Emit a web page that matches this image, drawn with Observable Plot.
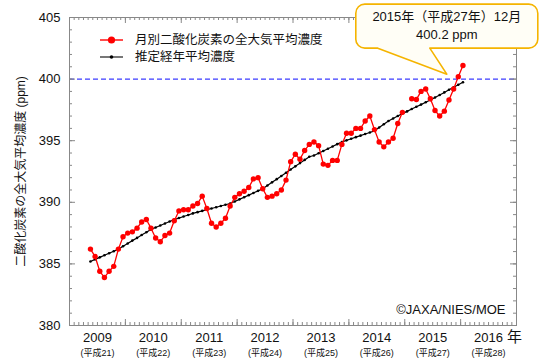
<!DOCTYPE html>
<html><head><meta charset="utf-8">
<script src="https://cdn.jsdelivr.net/npm/d3@7"></script>
<script src="https://cdn.jsdelivr.net/npm/@observablehq/plot@0.6"></script>
<style>
body{margin:0;background:#fff;}
#chart svg{display:block;}
</style></head><body><div id="chart"></div>
<script>
// ---- data ----
const startYear = 2009, startMonth = 5; // first value: May 2009
const monthlyCO2 = [
  386.2, 385.6, 384.4, 383.9, 384.4, 384.8, 386.2, 387.2,
  387.5, 387.6, 387.9, 388.4, 388.6, 387.9, 387.1, 386.8, 387.3, 387.5, 388.5, 389.3,
  389.4, 389.4, 389.7, 389.9, 390.5, 389.5, 388.3, 388.0, 388.3, 388.7, 389.7, 390.4,
  390.7, 390.9, 391.2, 391.9, 392.0, 391.1, 390.4, 390.5, 390.7, 391.0, 391.8, 393.3,
  393.9, 393.5, 394.2, 394.7, 394.9, 394.6, 393.1, 393.0, 393.4, 393.4, 394.7, 395.6,
  395.6, 396.0, 396.0, 396.6, 397.0, 395.9, 394.9, 394.5, 394.9, 395.2, 396.4, 397.3,
  null, 398.4, 398.35, 399.0, 399.2, 398.4, 397.45, 397.0, 397.4, 398.3, 399.2, 400.2,
  401.1
];
const trendCO2 = [
  385.2, 385.37, 385.53, 385.7, 385.87, 386.03, 386.2, 386.43,
  386.66, 386.89, 387.11, 387.34, 387.57, 387.8, 387.96, 388.12, 388.28, 388.44, 388.6, 388.72,
  388.85, 388.97, 389.1, 389.2, 389.3, 389.4, 389.5, 389.6, 389.7, 389.8, 389.9, 390.07,
  390.24, 390.41, 390.58, 390.76, 390.93, 391.1, 391.36, 391.62, 391.88, 392.14, 392.4, 392.66,
  392.92, 393.18, 393.44, 393.7, 393.8, 393.98, 394.17, 394.35, 394.53, 394.72, 394.9, 395.03,
  395.16, 395.29, 395.41, 395.54, 395.67, 395.8, 396.07, 396.33, 396.6, 396.8, 397.0, 397.2,
  397.38, 397.57, 397.75, 397.93, 398.12, 398.3, 398.51, 398.71, 398.92, 399.13, 399.34, 399.54,
  399.75
];
const years = [2009, 2010, 2011, 2012, 2013, 2014, 2015, 2016];
const heiseiLabels = ["(平成21)", "(平成22)", "(平成23)", "(平成24)", "(平成25)", "(平成26)", "(平成27)", "(平成28)"];
const yTicks = [380, 385, 390, 395, 400, 405];
const yDomain = [380, 405];
const xDomain = [2009, 2017];
const refLevel = 400;
const legendLabels = ["月別二酸化炭素の全大気平均濃度", "推定経年平均濃度"];
const yLabel = "二酸化炭素の全大気平均濃度 (ppm)";
const calloutLines = ["2015年（平成27年）12月", "400.2 ppm"];
const calloutIndex = 79; // Dec 2015
const credit = "©JAXA/NIES/MOE";
const unitLabel = "年";

// ---- tables ----
const tOf = i => startYear + (startMonth - 1 + i + 0.5) / 12;
const monthly = monthlyCO2.map((v, i) => ({t: tOf(i), v}));
const trend = trendCO2.map((v, i) => ({t: tOf(i), v}));
const majorX = d3.range(xDomain[0], xDomain[1] + 1);
const minorX = d3.range(xDomain[0] * 12, xDomain[1] * 12 + 1).map(m => m / 12);
const minorY = d3.range(yDomain[0], yDomain[1] + 1);

const FONT = '"Liberation Sans", Arial, "Noto Sans CJK JP", sans-serif';
const TC = "#888";
const pxX = 447 / 8;   // px per year (for tick lengths in data units)
const pxY = 308 / 25;  // px per ppm
const tickLenX = (len) => len / pxX;
const tickLenY = (len) => len / pxY;

const plot = Plot.plot({
  width: 540,
  height: 363,
  marginTop: 17, marginRight: 24, marginBottom: 38, marginLeft: 69,
  style: {fontFamily: FONT, fontSize: "13px", color: "#111", background: "#fff"},
  x: {domain: xDomain, axis: null},
  y: {domain: yDomain, axis: null},
  marks: [
    Plot.ruleY([refLevel], {stroke: "#3c3cff", strokeWidth: 1.3, strokeDasharray: "5,3"}),
    // ticks (inward)
    Plot.ruleX(minorX, {x: d => d, y1: yDomain[0], y2: yDomain[0] + tickLenY(3), stroke: TC}),
    Plot.ruleX(majorX, {x: d => d, y1: yDomain[0], y2: yDomain[0] + tickLenY(6), stroke: TC}),
    Plot.ruleX(minorX, {x: d => d, y1: yDomain[1], y2: yDomain[1] - tickLenY(3), stroke: TC}),
    Plot.ruleX(majorX, {x: d => d, y1: yDomain[1], y2: yDomain[1] - tickLenY(6), stroke: TC}),
    Plot.ruleY(minorY, {y: d => d, x1: xDomain[0], x2: xDomain[0] + tickLenX(3), stroke: TC}),
    Plot.ruleY(yTicks, {y: d => d, x1: xDomain[0], x2: xDomain[0] + tickLenX(6), stroke: TC}),
    Plot.ruleY(minorY, {y: d => d, x1: xDomain[1], x2: xDomain[1] - tickLenX(3), stroke: TC}),
    Plot.ruleY(yTicks, {y: d => d, x1: xDomain[1], x2: xDomain[1] - tickLenX(6), stroke: TC}),
    Plot.frame({stroke: TC}),
    // series
    Plot.line(trend, {x: "t", y: "v", stroke: "#000", strokeWidth: 1.2}),
    Plot.dot(trend, {x: "t", y: "v", r: 1.3, fill: "#000"}),
    Plot.line(monthly, {x: "t", y: "v", stroke: "#ff0000", strokeWidth: 1.3}),
    Plot.dot(monthly, {x: "t", y: "v", r: 2.7, fill: "#ff0000"}),
    // axis labels
    Plot.text(yTicks, {y: d => d, frameAnchor: "left", dx: -9, textAnchor: "end", text: d => String(d), fontSize: 13}),
    Plot.text(years, {x: d => d + 0.5, frameAnchor: "bottom", dy: 16, textAnchor: "middle", text: d => String(d), fontSize: 13}),
    Plot.text(heiseiLabels, {x: (d, i) => years[i] + 0.5, frameAnchor: "bottom", dy: 30, textAnchor: "middle", text: d => d, fontSize: 9}),
    Plot.text([unitLabel], {frameAnchor: "bottom-right", dy: 16, dx: -2, textAnchor: "middle", text: d => d, fontSize: 15}),
    Plot.text([yLabel], {frameAnchor: "left", dx: -48, rotate: -90, textAnchor: "middle", text: d => d, fontSize: 12}),
    Plot.text([credit], {frameAnchor: "bottom-right", dx: -11, dy: -12, textAnchor: "end", text: d => d, fontSize: 13})
  ]
});

// legend + callout overlay using the plot's scales
const sx = plot.scale("x"), sy = plot.scale("y");
const X = v => sx.apply(v), Y = v => sy.apply(v);
const svgSel = d3.select(plot);
const g = svgSel.append("g").attr("font-family", FONT).attr("fill", "#111");

const frameLeft = X(xDomain[0]), frameTop = Y(yDomain[1]);
const legendItems = [
  {label: legendLabels[0], color: "#ff0000", r: 3.6, w: 1.4, dy: 23},
  {label: legendLabels[1], color: "#555", dot: "#000", r: 1.8, w: 1.6, dy: 40}
];
for (const it of legendItems) {
  const yy = frameTop + it.dy;
  g.append("line").attr("x1", frameLeft + 31).attr("x2", frameLeft + 54).attr("y1", yy).attr("y2", yy)
    .attr("stroke", it.color).attr("stroke-width", it.w);
  g.append("circle").attr("cx", frameLeft + 42.5).attr("cy", yy).attr("r", it.r).attr("fill", it.dot || it.color);
  g.append("text").attr("x", frameLeft + 66).attr("y", yy).attr("dy", "0.35em")
    .attr("text-anchor", "start").attr("font-size", 12.5).text(it.label);
}

// callout
const tipX = X(monthly[calloutIndex].t) - 11, tipY = Y(monthly[calloutIndex].v) - 2;
const cx = tipX, bh = 44, rr = 9;
const bx0 = cx - 91, bx1 = cx + 91, by1 = tipY - 26, by0 = by1 - bh;
const t0 = cx - 69, t1 = cx - 17;
const path = d3.path();
path.moveTo(bx0 + rr, by0);
path.lineTo(bx1 - rr, by0);
path.arcTo(bx1, by0, bx1, by0 + rr, rr);
path.lineTo(bx1, by1 - rr);
path.arcTo(bx1, by1, bx1 - rr, by1, rr);
path.lineTo(t1, by1);
path.lineTo(tipX, tipY);
path.lineTo(t0, by1);
path.lineTo(bx0 + rr, by1);
path.arcTo(bx0, by1, bx0, by1 - rr, rr);
path.lineTo(bx0, by0 + rr);
path.arcTo(bx0, by0, bx0 + rr, by0, rr);
path.closePath();
g.append("path").attr("d", path.toString()).attr("fill", "#fffef6")
  .attr("stroke", "#f5b400").attr("stroke-width", 1.6).attr("stroke-linejoin", "round");
calloutLines.forEach((s, i) => {
  g.append("text").attr("x", cx).attr("y", by0 + 12 + i * 18).attr("dy", "0.35em")
    .attr("text-anchor", "middle").attr("font-size", 13).text(s);
});

document.getElementById("chart").appendChild(plot);
</script></body></html>
